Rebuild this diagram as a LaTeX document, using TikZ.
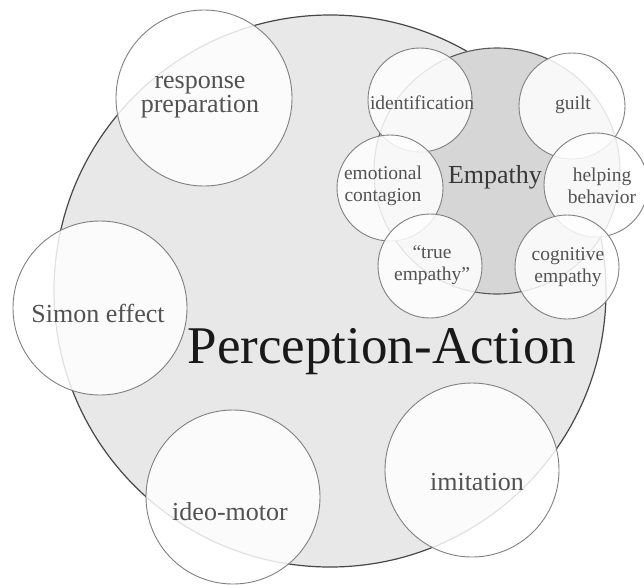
\documentclass[tikz,border=0pt]{standalone}
\usepackage{fontspec}
\setmainfont{Liberation Serif}

\tikzset{
    pa disc/.style={fill=black!9, draw=black!72, line width=1.2pt},
    emp disc/.style={fill=black!16, draw=black!65, line width=1.1pt},
    sub disc/.style={fill=white, fill opacity=0.84, draw=black!50, line width=0.9pt},
    big lbl/.style={text=black!68, font=\fontsize{26}{24}\selectfont, align=center, inner sep=0pt},
    small lbl/.style={text=black!68, font=\fontsize{19.5}{22}\selectfont, align=center, inner sep=0pt},
}

\begin{document}
\begin{tikzpicture}[x=1pt,y=-1pt]
    \useasboundingbox (0,0) rectangle (644,584);
    \clip (0,0) rectangle (644,584);
    % perception-action and empathy areas
    \draw[pa disc] (330,291) circle (276);
    \draw[emp disc] (497,171) circle (123);
    % outer topics
    \draw[sub disc] (204,98) circle (88);
    \draw[sub disc] (100,308) circle (87);
    \draw[sub disc] (233,497) circle (87);
    \draw[sub disc] (472,470) circle (87);
    % empathy topics
    \draw[sub disc] (420,100) circle (52);
    \draw[sub disc] (572,106) circle (53);
    \draw[sub disc] (390,188) circle (53);
    \draw[sub disc] (596,185) circle (52);
    \draw[sub disc] (430,266) circle (52);
    \draw[sub disc] (567,267) circle (52);
    % labels
    \node[big lbl] (resp) at (200,97) {response\\preparation};
    \node[big lbl] (simon) at (98,313) {Simon effect};
    \node[big lbl] (ideo) at (230,512) {ideo-motor};
    \node[big lbl] (imit) at (477,482) {imitation};
    \node[small lbl] (ident) at (422,103) {identification};
    \node[small lbl] (guilt) at (573,105) {guilt};
    \node[small lbl] (emocont) at (383,186) {emotional\\contagion};
    \node[small lbl] (helping) at (602,186) {helping\\behavior};
    \node[small lbl] (trueemp) at (432,265) {``true\\empathy''};
    \node[small lbl] (cogemp) at (568,267) {cognitive\\empathy};
    \node[text=black!78, font=\fontsize{26}{28}\selectfont, inner sep=0pt] (emp) at (495,177) {Empathy};
    \node[text=black!90, font=\fontsize{53}{60}\selectfont, inner sep=0pt, anchor=base] (pa) at (382,363) {Perception-Action};
\end{tikzpicture}
\end{document}
